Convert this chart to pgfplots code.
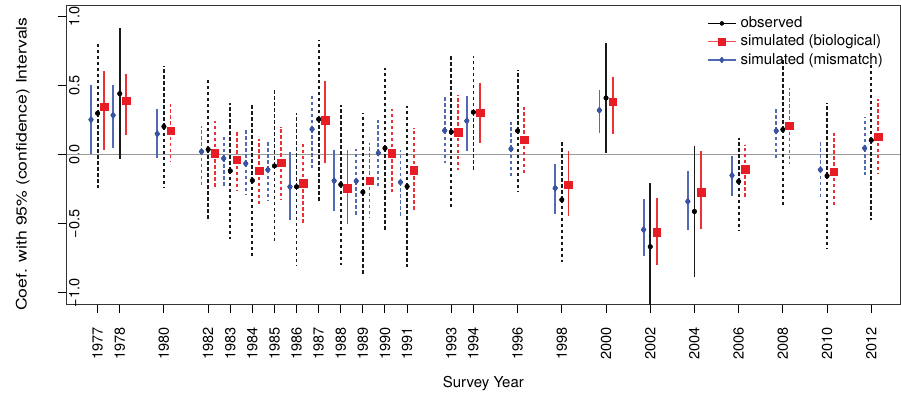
\documentclass[border=0pt]{standalone}
\usepackage{fontspec}
\setmainfont{TeX Gyre Heros}
\usepackage{graphicx}
\usepackage{pgfplots}
\usepackage{pgfplotstable}
\pgfplotsset{compat=1.18}
\definecolor{blueM}{RGB}{56,84,164}
\definecolor{blueL}{RGB}{82,106,178}
\definecolor{redM}{RGB}{232,28,36}
\definecolor{redL}{RGB}{236,48,52}
\definecolor{zeroline}{RGB}{155,155,155}

% mismatch (blue), plotted at year-0.3
\pgfplotstableread{
yr c lo hi s
1977 0.255 0.005 0.506 1
1978 0.287 0.053 0.506 1
1980 0.152 -0.024 0.330 1
1982 0.024 -0.217 0.210 0
1983 -0.026 -0.236 0.137 0
1984 -0.063 -0.291 0.186 0
1985 -0.108 -0.337 0.092 0
1986 -0.231 -0.475 0.019 1
1987 0.186 -0.096 0.434 0
1988 -0.188 -0.410 0.036 1
1989 -0.190 -0.446 0.043 0
1990 0.014 -0.229 0.253 0
1991 -0.198 -0.446 0.036 0
1993 0.176 -0.056 0.417 0
1994 0.246 0.031 0.427 1
1996 0.043 -0.169 0.241 0
1998 -0.241 -0.427 -0.065 1
2000 0.323 0.161 0.468 1
2002 -0.542 -0.735 -0.320 1
2004 -0.337 -0.542 -0.120 1
2006 -0.149 -0.301 -0.005 1
2008 0.174 -0.043 0.330 0
2010 -0.108 -0.313 0.096 0
2012 0.048 -0.149 0.272 0
}\mis

% observed (black), plotted at year
\pgfplotstableread{
yr c lo hi s
1977 0.301 -0.240 0.810 0
1978 0.443 -0.031 0.916 1
1980 0.205 -0.236 0.646 0
1982 0.039 -0.482 0.555 0
1983 -0.116 -0.610 0.378 0
1984 -0.186 -0.747 0.366 0
1985 -0.080 -0.643 0.470 0
1986 -0.231 -0.807 0.306 0
1987 0.258 -0.337 0.832 0
1988 -0.215 -0.795 0.362 0
1989 -0.270 -0.868 0.306 0
1990 0.048 -0.542 0.627 0
1991 -0.229 -0.815 0.354 0
1993 0.166 -0.393 0.716 0
1994 0.309 -0.113 0.716 0
1996 0.174 -0.265 0.615 0
1998 -0.325 -0.776 0.108 0
2000 0.412 0.017 0.808 1
2002 -0.665 -1.120 -0.207 1
2004 -0.410 -0.884 0.067 1
2006 -0.193 -0.542 0.121 0
2008 0.183 -0.374 0.700 0
2010 -0.152 -0.682 0.374 0
2012 0.106 -0.470 0.660 0
}\obs

% biological (red), plotted at year+0.3
\pgfplotstableread{
yr c lo hi s
1977 0.350 0.036 0.607 1
1978 0.393 0.147 0.583 1
1980 0.176 -0.053 0.369 0
1982 0.010 -0.246 0.244 0
1983 -0.034 -0.260 0.174 0
1984 -0.116 -0.374 0.113 0
1985 -0.056 -0.325 0.205 0
1986 -0.207 -0.506 0.092 0
1987 0.253 -0.060 0.537 1
1988 -0.243 -0.501 0.036 1
1989 -0.188 -0.458 0.084 0
1990 0.010 -0.272 0.335 0
1991 -0.113 -0.405 0.198 0
1993 0.166 -0.108 0.434 0
1994 0.306 0.089 0.518 1
1996 0.111 -0.137 0.349 0
1998 -0.215 -0.446 0.031 1
2000 0.385 0.152 0.566 1
2002 -0.562 -0.795 -0.309 1
2004 -0.272 -0.537 0.029 1
2006 -0.106 -0.306 0.072 0
2008 0.212 -0.065 0.482 0
2010 -0.121 -0.378 0.161 0
2012 0.132 -0.140 0.403 0
}\bio

\pgfplotsset{
  dsh/.style={dash pattern=on 3.5pt off 2.5pt},
}

\begin{document}
\begin{tikzpicture}
\begin{axis}[
  at={(0,0)}, anchor=south west,
  scale only axis, width=833.3pt, height=298.3pt,
  xmin=1975.6, xmax=2013.3, ymin=-1.08, ymax=1.08,
  axis line style={black!80, line width=1pt},
  xtick={1977,1978,1980,1982,1983,1984,1985,1986,1987,1988,1989,1990,1991,1993,1994,1996,1998,2000,2002,2004,2006,2008,2010,2012},
  xticklabels={1977,1978,1980,1982,1983,1984,1985,1986,1987,1988,1989,1990,1991,1993,1994,1996,1998,2000,2002,2004,2006,2008,2010,2012},
  ytick={-1,-0.5,0,0.5,1},
  yticklabels={−1.0,−0.5,0.0,0.5,1.0},
  tick pos=left,
  tick align=outside,
  major tick length=9pt,
  tick style={black, line width=1pt},
  xticklabel style={rotate=90, anchor=east, inner sep=0pt, font=\fontsize{14.5}{17}\selectfont},
  yticklabel style={rotate=90, anchor=south, inner sep=0pt, font=\fontsize{14.5}{17}\selectfont},
  xticklabel shift=14pt,
  yticklabel shift=-22pt,
  xlabel={Survey Year},
  xlabel style={at={(axis description cs:0.5,0)}, anchor=base, yshift=-83.3pt, inner sep=0pt, font=\fontsize{15}{18}\selectfont},
  ylabel={\scalebox{1.215}[1]{Coef. with 95\% (confidence) Intervals}},
  every axis y label/.style={at={(axis description cs:0,0.469)}, xshift=-40pt, rotate=90, anchor=base, inner sep=0pt, font=\fontsize{14.5}{17}\selectfont},
  legend image code/.code={\draw[#1, mark repeat=2, mark phase=2] plot coordinates {(0pt,0pt) (14pt,0pt) (28pt,0pt)};},
  legend style={at={(rel axis cs:1,1)}, anchor=north east, xshift=-14pt, yshift=-8.5pt,
    draw=none, fill=none, row sep=4.3pt, column sep=4pt,
    nodes={inner sep=0pt, text height=11pt, text depth=3pt},
    font=\fontsize{15}{18}\selectfont},
  legend cell align=left,
]
\addlegendimage{black, line width=1.3pt, mark=*, mark size=2pt, mark options={solid, line width=0.4pt}}
\addlegendentry{observed}
\addlegendimage{redL!85, line width=1.3pt, mark=square*, mark size=3.8pt, mark options={solid, line width=0.4pt, fill=redM, draw=redM}}
\addlegendentry{simulated (biological)}
\addlegendimage{blueL, line width=1.3pt, mark=diamond*, mark size=3pt, mark options={solid, line width=0.4pt, fill=blueM, draw=blueM}}
\addlegendentry{simulated (mismatch)}

% zero reference line
\addplot[zeroline, line width=1.2pt, forget plot] coordinates {(1975.6,0) (2013.3,0)};

% ---- interval bars: mismatch (blue)
\addplot[only marks, mark=none, forget plot, restrict expr to domain={\thisrow{s}}{0.5:1.5},
  error bars/.cd, y dir=both, y explicit, error mark=none,
  error bar style={draw=blueL, line width=1.8pt}]
  table[x expr=\thisrow{yr}-0.3, y=c, y error plus expr=\thisrow{hi}-\thisrow{c}, y error minus expr=\thisrow{c}-\thisrow{lo}] {\mis};
\addplot[only marks, mark=none, forget plot, restrict expr to domain={\thisrow{s}}{-0.5:0.5},
  error bars/.cd, y dir=both, y explicit, error mark=none,
  error bar style={draw=blueL, line width=1.8pt, dsh}]
  table[x expr=\thisrow{yr}-0.3, y=c, y error plus expr=\thisrow{hi}-\thisrow{c}, y error minus expr=\thisrow{c}-\thisrow{lo}] {\mis};
% ---- observed (black)
\addplot[only marks, mark=none, forget plot, restrict expr to domain={\thisrow{s}}{0.5:1.5},
  error bars/.cd, y dir=both, y explicit, error mark=none,
  error bar style={draw=black!90, line width=1.8pt}]
  table[x=yr, y=c, y error plus expr=\thisrow{hi}-\thisrow{c}, y error minus expr=\thisrow{c}-\thisrow{lo}] {\obs};
\addplot[only marks, mark=none, forget plot, restrict expr to domain={\thisrow{s}}{-0.5:0.5},
  error bars/.cd, y dir=both, y explicit, error mark=none,
  error bar style={draw=black!90, line width=1.8pt, dsh}]
  table[x=yr, y=c, y error plus expr=\thisrow{hi}-\thisrow{c}, y error minus expr=\thisrow{c}-\thisrow{lo}] {\obs};
% ---- biological (red)
\addplot[only marks, mark=none, forget plot, restrict expr to domain={\thisrow{s}}{0.5:1.5},
  error bars/.cd, y dir=both, y explicit, error mark=none,
  error bar style={draw=redL, line width=1.8pt}]
  table[x expr=\thisrow{yr}+0.3, y=c, y error plus expr=\thisrow{hi}-\thisrow{c}, y error minus expr=\thisrow{c}-\thisrow{lo}] {\bio};
\addplot[only marks, mark=none, forget plot, restrict expr to domain={\thisrow{s}}{-0.5:0.5},
  error bars/.cd, y dir=both, y explicit, error mark=none,
  error bar style={draw=redL, line width=1.8pt, dsh}]
  table[x expr=\thisrow{yr}+0.3, y=c, y error plus expr=\thisrow{hi}-\thisrow{c}, y error minus expr=\thisrow{c}-\thisrow{lo}] {\bio};

% ---- point estimates
\addplot[only marks, mark=diamond*, mark size=3.3pt, color=blueM, forget plot] table[x expr=\thisrow{yr}-0.3, y=c] {\mis};
\addplot[only marks, mark=*, mark size=2.3pt, color=black, forget plot] table[x=yr, y=c] {\obs};
\addplot[only marks, mark=square*, mark size=3.8pt, color=redM, forget plot] table[x expr=\thisrow{yr}+0.3, y=c] {\bio};
\end{axis}
\pgfresetboundingbox
\path[use as bounding box] (-66.7pt,-88pt) rectangle (834.3pt,304pt);
\end{tikzpicture}
\end{document}
